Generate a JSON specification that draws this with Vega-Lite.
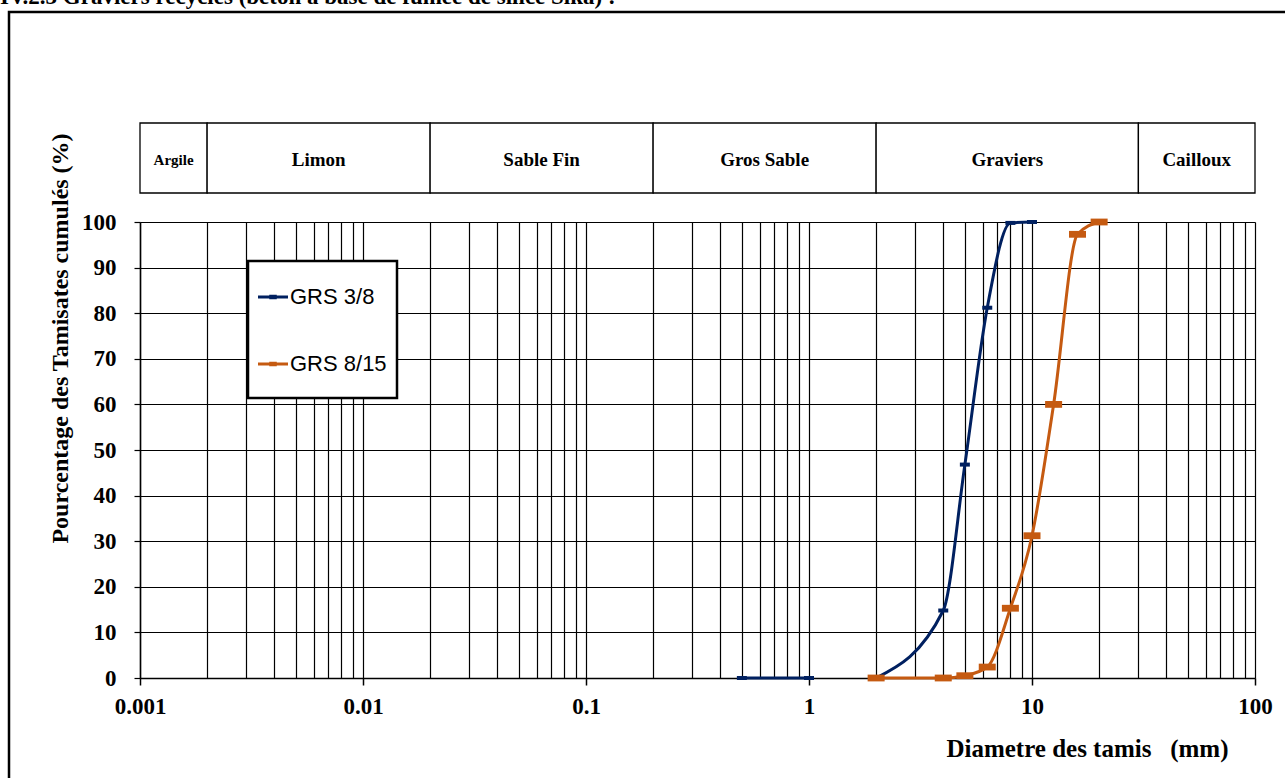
{
  "$schema": "https://vega.github.io/schema/vega-lite/v6.json",
  "width": 1290,
  "height": 876,
  "autosize": {"type": "none"},
  "padding": {"left": 9, "top": 12, "right": -14, "bottom": -110},
  "background": "white",
  "title": {
    "text": "IV.2.3 Graviers recyclés (béton à base de fumée de silice Sika) :",
    "anchor": "start",
    "frame": "group",
    "orient": "top",
    "font": "Liberation Serif",
    "fontSize": 23,
    "fontWeight": "bold",
    "color": "black",
    "baseline": "alphabetic",
    "offset": 5,
    "dx": -9,
    "dy": 20
  },
  "config": {
    "view": {"stroke": "black", "strokeWidth": 2.5},
    "axis": {
      "labelFont": "Liberation Serif",
      "labelFontWeight": "bold",
      "labelColor": "black",
      "titleFont": "Liberation Serif",
      "titleFontWeight": "bold",
      "titleColor": "black",
      "gridColor": "black",
      "gridOpacity": 1,
      "domainColor": "black",
      "tickColor": "black"
    },
    "legend": {
      "labelFont": "Liberation Sans",
      "labelColor": "black",
      "strokeWidth": 2.5
    }
  },
  "datasets": {
    "courbes": [
      {"serie": "GRS 3/8", "troncon": "a", "tamis": 0.5, "passant": 0},
      {"serie": "GRS 3/8", "troncon": "a", "tamis": 1, "passant": 0},
      {"serie": "GRS 3/8", "troncon": "b", "tamis": 2, "passant": 0},
      {"serie": "GRS 3/8", "troncon": "b", "tamis": 4, "passant": 14.8},
      {"serie": "GRS 3/8", "troncon": "b", "tamis": 5, "passant": 46.8},
      {"serie": "GRS 3/8", "troncon": "b", "tamis": 6.3, "passant": 81.2},
      {"serie": "GRS 3/8", "troncon": "b", "tamis": 8, "passant": 99.8},
      {"serie": "GRS 3/8", "troncon": "b", "tamis": 10, "passant": 100},
      {"serie": "GRS 8/15", "troncon": "c", "tamis": 2, "passant": 0},
      {"serie": "GRS 8/15", "troncon": "c", "tamis": 4, "passant": 0},
      {"serie": "GRS 8/15", "troncon": "c", "tamis": 5, "passant": 0.5},
      {"serie": "GRS 8/15", "troncon": "c", "tamis": 6.3, "passant": 2.4},
      {"serie": "GRS 8/15", "troncon": "c", "tamis": 8, "passant": 15.3},
      {"serie": "GRS 8/15", "troncon": "c", "tamis": 10, "passant": 31.2},
      {"serie": "GRS 8/15", "troncon": "c", "tamis": 12.5, "passant": 60},
      {"serie": "GRS 8/15", "troncon": "c", "tamis": 16, "passant": 97.3},
      {"serie": "GRS 8/15", "troncon": "c", "tamis": 20, "passant": 100}
    ],
    "classes": [
      {"classe": "Argile", "debut": 0.001, "fin": 0.002},
      {"classe": "Limon", "debut": 0.002, "fin": 0.02},
      {"classe": "Sable Fin", "debut": 0.02, "fin": 0.2},
      {"classe": "Gros Sable", "debut": 0.2, "fin": 2},
      {"classe": "Graviers", "debut": 2, "fin": 30},
      {"classe": "Cailloux", "debut": 30, "fin": 100}
    ]
  },
  "layer": [
    {
      "data": {"name": "courbes"},
      "encoding": {
        "x": {
          "field": "tamis",
          "type": "quantitative",
          "scale": {"type": "log", "domain": [0.001, 100], "range": [131, 1246], "nice": false},
          "axis": {
            "values": [0.001, 0.002, 0.003, 0.004, 0.005, 0.006, 0.007, 0.008, 0.009,
                       0.01, 0.02, 0.03, 0.04, 0.05, 0.06, 0.07, 0.08, 0.09,
                       0.1, 0.2, 0.3, 0.4, 0.5, 0.6, 0.7, 0.8, 0.9,
                       1, 2, 3, 4, 5, 6, 7, 8, 9,
                       10, 20, 30, 40, 50, 60, 70, 80, 90, 100],
            "offset": -210,
            "grid": true,
            "gridWidth": 1.2,
            "domainWidth": 1.5,
            "tickSize": 7,
            "tickWidth": 1.5,
            "tickOpacity": {"condition": {"test": "indexof([0.001, 0.01, 0.1, 1, 10, 100], datum.value) >= 0", "value": 1}, "value": 0},
            "labelExpr": "indexof([0.001, 0.01, 0.1, 1, 10, 100], datum.value) >= 0 ? '' + datum.value : ''",
            "labelFontSize": 23,
            "labelPadding": 10,
            "labelFlush": false,
            "labelOverlap": false,
            "title": "Diametre des tamis \u00a0 (mm)",
            "titleFontSize": 25,
            "titleX": 1219,
            "titleY": 70,
            "titleAlign": "right",
            "titleBaseline": "middle"
          }
        },
        "y": {
          "field": "passant",
          "type": "quantitative",
          "scale": {"domain": [0, 100], "range": [666, 210], "nice": false},
          "axis": {
            "values": [0, 10, 20, 30, 40, 50, 60, 70, 80, 90, 100],
            "offset": -131,
            "grid": true,
            "gridWidth": 1.2,
            "domainWidth": 1.5,
            "tickSize": 6,
            "tickWidth": 1.2,
            "labelFontSize": 23,
            "labelPadding": 18,
            "labelFlush": false,
            "labelOverlap": false,
            "title": "Pourcentage des Tamisates cumulés (%)",
            "titleFontSize": 24,
            "titleX": -80,
            "titleY": 326,
            "titleAngle": -90,
            "titleAlign": "center",
            "titleBaseline": "middle"
          }
        }
      },
      "layer": [
        {
          "mark": {"type": "line", "interpolate": "monotone", "strokeWidth": 3},
          "encoding": {
            "color": {
              "field": "serie",
              "type": "nominal",
              "scale": {"domain": ["GRS 3/8", "GRS 8/15"], "range": ["#002060", "#C55A11"]},
              "legend": {
                "title": null,
                "orient": "none",
                "legendX": 239,
                "legendY": 249,
                "strokeColor": "black",
                "fillColor": "white",
                "padding": 9.5,
                "rowPadding": 16,
                "symbolType": "M-0.6,0H0.6M-0.09,-0.03H0.09V0.03H-0.09ZM0,0.72",
                "symbolSize": 2500,
                "symbolStrokeWidth": 3,
                "symbolOffset": -11,
                "labelFontSize": 22,
                "labelOffset": -9.5
              }
            },
            "detail": {"field": "troncon", "type": "nominal"}
          }
        },
        {
          "mark": {"type": "point", "filled": true, "opacity": 1, "shape": "M-1,-0.4H1V0.4H-1Z"},
          "encoding": {
            "color": {"field": "serie", "type": "nominal", "legend": null},
            "size": {"condition": {"test": "datum.serie === 'GRS 8/15'", "value": 289}, "value": 100}
          }
        }
      ]
    },
    {
      "data": {"name": "classes"},
      "transform": [{"calculate": "sqrt(datum.debut * datum.fin)", "as": "centre"}],
      "layer": [
        {
          "mark": {"type": "rect", "fill": "white", "stroke": "black", "strokeWidth": 1.3},
          "encoding": {
            "x": {"field": "debut", "type": "quantitative", "scale": {"type": "log", "domain": [0.001, 100], "range": [131, 1246], "nice": false}},
            "x2": {"field": "fin"},
            "y": {"datum": 0, "type": "quantitative", "scale": {"domain": [0, 1], "range": [181, 111], "nice": false}, "axis": null},
            "y2": {"datum": 1}
          }
        },
        {
          "mark": {"type": "text", "font": "Liberation Serif", "fontWeight": "bold", "color": "black", "baseline": "middle", "dy": 2},
          "encoding": {
            "x": {"field": "centre", "type": "quantitative", "scale": {"type": "log", "domain": [0.001, 100], "range": [131, 1246], "nice": false}},
            "y": {"datum": 0.5, "type": "quantitative", "scale": {"domain": [0, 1], "range": [181, 111], "nice": false}, "axis": null},
            "text": {"field": "classe", "type": "nominal"},
            "size": {"condition": {"test": "datum.classe === 'Argile'", "value": 15}, "value": 19}
          }
        }
      ]
    }
  ],
  "resolve": {"scale": {"y": "independent"}, "axis": {"y": "independent"}}
}
